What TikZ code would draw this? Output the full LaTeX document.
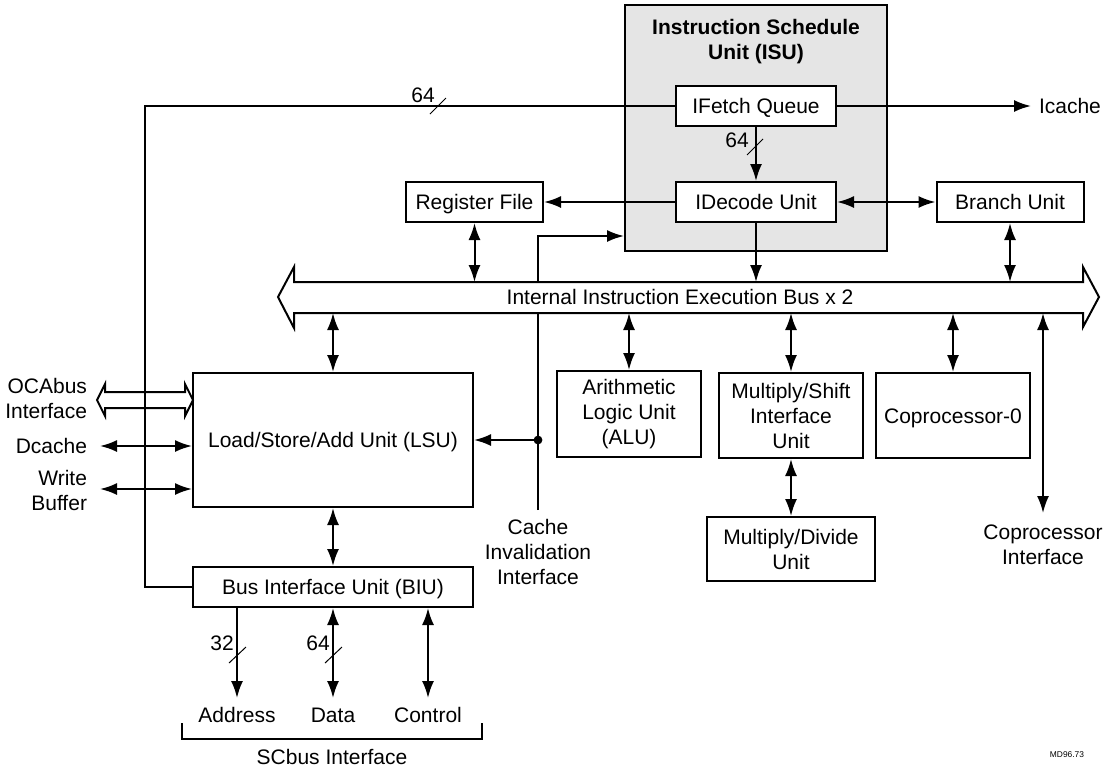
\documentclass[tikz,border=0pt]{standalone}
\usepackage{fontspec}
\setmainfont{Liberation Sans}
\usetikzlibrary{arrows.meta}
\begin{document}
\begin{tikzpicture}[x=0.5pt,y=-0.5pt, line width=1pt,
  box/.style={draw, fill=white, inner sep=0pt, align=center},
  one/.style={text height=7.5pt, text depth=0pt},
  arr/.style={-{Latex[length=8.5pt,width=6pt]}},
  dbl/.style={{Latex[length=8.5pt,width=6pt]}-{Latex[length=8.5pt,width=6pt]}},
  lbl/.style={inner sep=0pt, align=center},
  sl/.style={line width=0.5pt},
  font=\fontsize{10.5}{12.5}\selectfont]
\useasboundingbox (0,0) rectangle (1113,767);

% ISU
\node[draw, fill=black!10, minimum width=131pt, minimum height=123pt, inner sep=0pt] (isu) at (756,128) {};
\node[lbl, font=\fontsize{10.5}{12.5}\selectfont\bfseries] (isut) at (756,42) {Instruction Schedule\\Unit (ISU)};

% boxes
\node[box, one, minimum width=80pt, minimum height=20pt] (ifq) at (756,106) {IFetch Queue};
\node[box, one, minimum width=80pt, minimum height=20pt] (idu) at (756,202) {IDecode Unit};
\node[box, one, minimum width=68.5pt, minimum height=20pt] (regf) at (474.5,202) {Register File};
\node[box, one, minimum width=73.5pt, minimum height=20pt] (br) at (1010,202) {Branch Unit};
\node[box, one, minimum width=140pt, minimum height=67pt] (lsu) at (333,440) {Load/Store/Add Unit (LSU)};
\node[box, one, minimum width=140pt, minimum height=20pt] (biu) at (333,587) {Bus Interface Unit (BIU)};
\node[box, minimum width=72pt, minimum height=43pt] (alu) at (629,414) {Arithmetic\\Logic Unit\\(ALU)};
\node[box, minimum width=72pt, minimum height=42.5pt] (msi) at (791,415.5) {Multiply/Shift\\Interface\\Unit};
\node[box, minimum width=84pt, minimum height=32pt] (mdu) at (791,549) {Multiply/Divide\\Unit};
\node[box, one, minimum width=77pt, minimum height=42.5pt] (cp0) at (953,415.5) {Coprocessor-0};

% IFetch connections
\coordinate (ctop) at (145,106);
\coordinate (cbot) at (145,587);
\draw (ifq.west) -- (ctop) -- (cbot) -- (biu.west);
\draw[sl] (430,114) -- (446,98);
\node[lbl] (n64a) at (423,95) {64};
\node[lbl, anchor=west] (icache) at (1038,106) {Icache};
\draw[arr, shorten >=3.5pt] (ifq.east) -- (icache.west);
\draw[arr] (ifq.south) -- (idu.north);
\draw[sl] (747,155) -- (763,139);
\node[lbl] (n64b) at (737,140) {64};
\draw[arr] (idu.west) -- (regf.east);
\draw[dbl] (idu.east) -- (br.west);

% cache invalidation
\node[lbl] (cinv) at (538,552) {Cache\\Invalidation\\Interface};
\coordinate (ci) at (538,510);
\coordinate (citop) at (538,236);
\coordinate (dot) at (538,440);
\draw[arr] (ci) -- (citop) -- (isu.west |- citop);
\fill (dot) circle (2.2pt);
\draw[arr] (dot) -- (lsu.east);

% bus
\draw[fill=white] (278,297) -- (294,267) -- (294,282) -- (1083,282) -- (1083,267) -- (1099,297)
  -- (1083,327) -- (1083,313) -- (294,313) -- (294,328) -- cycle;
\node[lbl] (bus) at (680,297) {Internal Instruction Execution Bus x 2};
\coordinate (bt) at (0,282);
\coordinate (bb) at (0,313);
\draw[dbl] (regf.south) -- (regf.south |- bt);
\draw[arr] (idu.south) -- (idu.south |- bt);
\draw[dbl] (br.south) -- (br.south |- bt);
\draw[dbl] (lsu.north) -- (lsu.north |- bb);
\draw[dbl] (alu.north) -- (alu.north |- bb);
\draw[dbl] (msi.north) -- (msi.north |- bb);
\draw[dbl] (cp0.north) -- (cp0.north |- bb);
\draw[dbl] (msi.south) -- (mdu.north);
\node[lbl] (cpi) at (1043,545) {Coprocessor\\Interface};
\coordinate (cpiend) at (1043,513);
\draw[dbl] (cpiend |- bb) -- (cpiend);

% LSU - BIU
\draw[dbl] (lsu.south) -- (biu.north);

% left side
\draw (97,400) -- (105,384) -- (105,392) -- (185,392) -- (185,384) -- (193,400) -- (185,416)
  -- (185,408) -- (105,408) -- (105,416) -- cycle;
\node[lbl, anchor=east, align=right] (oca) at (88,398) {OCAbus\\Interface};
\node[lbl, anchor=east, align=right, one] (dc) at (88,446) {Dcache};
\node[lbl, anchor=east, align=right] (wb) at (88,490) {Write\\Buffer};
\coordinate (dce) at (100,446);
\coordinate (wbe) at (100,489);
\draw[dbl] (dce) -- (dce -| lsu.west);
\draw[dbl] (wbe) -- (wbe -| lsu.west);

% bottom
\node[lbl, one] (addr) at (237,715) {Address};
\node[lbl, one] (data) at (333,715) {Data};
\node[lbl, one] (ctrl) at (428,715) {Control};
\coordinate (adde) at (237,698);
\coordinate (date) at (333,698);
\coordinate (ctle) at (428,698);
\draw[arr] (adde |- biu.south) -- (adde);
\draw[dbl] (date |- biu.south) -- (date);
\draw[dbl] (ctle |- biu.south) -- (ctle);
\draw[sl] (229,663) -- (246,647);
\node[lbl, one] (n32) at (222,643) {32};
\draw[sl] (325,663) -- (342,647);
\node[lbl, one] (n64c) at (318,643) {64};
\draw (182,723) -- (182,739) -- (482,739) -- (482,723);
\node[lbl] (scbus) at (332,757) {SCbus Interface};

\node[lbl, font=\fontsize{4.2}{5}\selectfont] (md) at (1067,755) {MD96.73};
\end{tikzpicture}
\end{document}
